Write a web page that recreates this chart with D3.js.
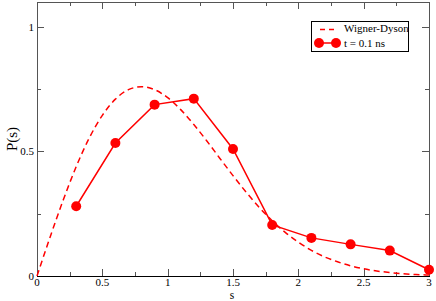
<!DOCTYPE html>
<html>
<head>
<meta charset="utf-8">
<script src="https://cdn.jsdelivr.net/npm/d3@7"></script>
<style>
  body { margin: 0; background: #fff; }
  text { font-family: "Liberation Serif", "DejaVu Serif", serif; }
</style>
</head>
<body>
<div id="chart"></div>
<script>
// measured points, t = 0.1 ns
var sValues = [0.3, 0.6, 0.9, 1.2, 1.5, 1.8, 2.1, 2.4, 2.7, 3.0];
var pValues = [0.28, 0.534, 0.688, 0.712, 0.51, 0.205, 0.153, 0.127, 0.102, 0.025];

// Wigner-Dyson curve, every 0.1
var wdS = [0, 0.1, 0.2, 0.3, 0.4, 0.5, 0.6, 0.7, 0.8, 0.9, 1.0, 1.1, 1.2, 1.3, 1.4, 1.5,
           1.6, 1.7, 1.8, 1.9, 2.0, 2.1, 2.2, 2.3, 2.4, 2.5, 2.6, 2.7, 2.8, 2.9, 3.0];
var wdP = [0, 0.156, 0.304, 0.439, 0.554, 0.645, 0.710, 0.748, 0.760, 0.748, 0.716, 0.668,
           0.608, 0.542, 0.472, 0.403, 0.337, 0.276, 0.222, 0.175, 0.136, 0.103, 0.077,
           0.057, 0.041, 0.029, 0.020, 0.014, 0.009, 0.006, 0.004];

var xTicks = [0, 0.5, 1, 1.5, 2, 2.5, 3];
var xTickLabels = ["0", "0.5", "1", "1.5", "2", "2.5", "3"];
var yTicks = [0, 0.5, 1];
var yTickLabels = ["0", "0.5", "1"];
var legendLabels = ["Wigner-Dyson", "t = 0.1 ns"];

var width = 436,
    height = 301,
    margin = { left: 37, right: 7, top: 2, bottom: 25 };

var red = "#ff0000";

var svg = d3.select("#chart").append("svg")
    .attr("width", width)
    .attr("height", height);

var x = d3.scaleLinear().domain([0, 3]).range([margin.left, width - margin.right]);
var y = d3.scaleLinear().domain([0, 1.1]).range([height - margin.bottom, margin.top]);

var x0 = x.range()[0], x1 = x.range()[1], y0 = y.range()[0], y1 = y.range()[1];

// ticks, inward on all four sides
var g = svg.append("g").attr("stroke", "#555").attr("stroke-width", 1);
var xMinor = d3.range(0, 3.001, 0.25);
var yMinor = d3.range(0, 1.1, 0.25);
xMinor.forEach(function(v) {
    var len = xTicks.indexOf(v) >= 0 ? 7 : 4;
    var px = Math.round(x(v)) + 0.5;
    g.append("line").attr("x1", px).attr("x2", px).attr("y1", y0).attr("y2", y0 - len);
    g.append("line").attr("x1", px).attr("x2", px).attr("y1", y1).attr("y2", y1 + len);
});
yMinor.forEach(function(v) {
    var len = yTicks.indexOf(v) >= 0 ? 7 : 4;
    var py = Math.round(y(v)) + 0.5;
    g.append("line").attr("x1", x0).attr("x2", x0 + len).attr("y1", py).attr("y2", py);
    g.append("line").attr("x1", x1).attr("x2", x1 - len).attr("y1", py).attr("y2", py);
});

// frame
svg.append("path")
    .attr("d", "M" + (x0 + 0.5) + "," + (y0 + 0.5) + "V" + (y1 + 0.5) + "H" + (x1 + 0.5) + "V" + (y0 + 0.5))
    .attr("fill", "none").attr("stroke", "#555");
svg.append("line")
    .attr("x1", x0).attr("x2", x1 + 1).attr("y1", y0 + 0.5).attr("y2", y0 + 0.5)
    .attr("stroke", "#000");

// tick labels
svg.selectAll(".xl").data(xTicks).enter().append("text")
    .attr("x", function(d) { return x(d); })
    .attr("y", y0 + 10)
    .attr("text-anchor", "middle")
    .style("font-size", "11px")
    .text(function(d, i) { return xTickLabels[i]; });

svg.selectAll(".yl").data(yTicks).enter().append("text")
    .attr("x", x0 - 3)
    .attr("y", function(d) { return y(d) + 4; })
    .attr("text-anchor", "end")
    .style("font-size", "11px")
    .text(function(d, i) { return yTickLabels[i]; });

// axis titles
svg.append("text")
    .attr("x", (x0 + x1) / 2 - 1)
    .attr("y", 298.5)
    .attr("text-anchor", "middle")
    .style("font-size", "11.5px")
    .text("s");

svg.append("text")
    .attr("transform", "translate(17," + ((y0 + y1) / 2) + ") rotate(-90)")
    .attr("text-anchor", "middle")
    .style("font-size", "15px")
    .text("P(s)");

// Wigner-Dyson dashed curve
var wdLine = d3.line()
    .x(function(d, i) { return x(wdS[i]); })
    .y(function(d) { return y(d); })
    .curve(d3.curveMonotoneX);

svg.append("path")
    .attr("d", wdLine(wdP))
    .attr("fill", "none")
    .attr("stroke", red)
    .attr("stroke-width", 1.5)
    .attr("stroke-dasharray", "6,4");

// data series
var dataLine = d3.line()
    .x(function(d, i) { return x(sValues[i]); })
    .y(function(d) { return y(d); });

svg.append("path")
    .attr("d", dataLine(pValues))
    .attr("fill", "none")
    .attr("stroke", red)
    .attr("stroke-width", 1.5);

svg.selectAll(".pt").data(pValues).enter().append("circle")
    .attr("cx", function(d, i) { return x(sValues[i]); })
    .attr("cy", function(d) { return y(d); })
    .attr("r", 5)
    .attr("fill", red);

// legend
var lg = svg.append("g").attr("transform", "translate(311,21)");
lg.append("rect")
    .attr("x", 0.5).attr("y", 0.5)
    .attr("width", 97).attr("height", 30)
    .attr("fill", "#fff").attr("stroke", "#000");
lg.append("line")
    .attr("x1", 9).attr("x2", 25).attr("y1", 8.5).attr("y2", 8.5)
    .attr("stroke", red).attr("stroke-width", 1.5).attr("stroke-dasharray", "5,4");
lg.append("text").attr("x", 33).attr("y", 11).style("font-size", "11px").text(legendLabels[0]);
lg.append("line")
    .attr("x1", 8).attr("x2", 25).attr("y1", 22).attr("y2", 22)
    .attr("stroke", red).attr("stroke-width", 1.5);
lg.append("circle").attr("cx", 8).attr("cy", 22).attr("r", 5).attr("fill", red);
lg.append("circle").attr("cx", 25).attr("cy", 22).attr("r", 5).attr("fill", red);
lg.append("text").attr("x", 33).attr("y", 25.5).style("font-size", "11px").text(legendLabels[1]);
</script>
</body>
</html>
